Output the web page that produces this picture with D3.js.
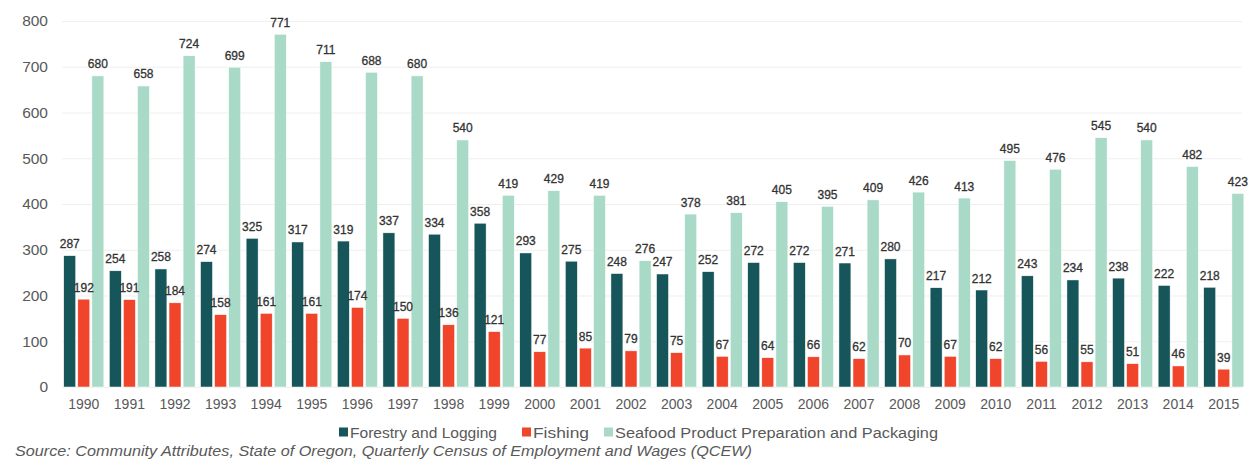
<!DOCTYPE html>
<html>
<head>
<meta charset="utf-8">
<script src="https://cdn.jsdelivr.net/npm/d3@7"></script>
<style>
  html, body { margin: 0; padding: 0; background: #fff; }
  svg { display: block; font-family: "Liberation Sans", Arial, Helvetica, sans-serif; }
</style>
</head>
<body>
<svg id="chart" width="1248" height="460"></svg>
<script>
const years = ["1990","1991","1992","1993","1994","1995","1996","1997","1998","1999","2000","2001","2002","2003","2004","2005","2006","2007","2008","2009","2010","2011","2012","2013","2014","2015"];
const seriesNames = ["Forestry and Logging", "Fishing", "Seafood Product Preparation and Packaging"];
const forestry = [287,254,258,274,325,317,319,337,334,358,293,275,248,247,252,272,272,271,280,217,212,243,234,238,222,218];
const fishing = [192,191,184,158,161,161,174,150,136,121,77,85,79,75,67,64,66,62,70,67,62,56,55,51,46,39];
const seafood = [680,658,724,699,771,711,688,680,540,419,429,419,276,378,381,405,395,409,426,413,495,476,545,540,482,423];
const yTicks = [0,100,200,300,400,500,600,700,800];
const sourceText = "Source: Community Attributes, State of Oregon, Quarterly Census of Employment and Wages (QCEW)";

const colors = ["#16555a", "#f0442b", "#a9dac8"];
const seriesValues = [forestry, fishing, seafood];

const svg = d3.select("#chart");
const plotLeft = 61, plotRight = 1246.6, plotTop = 21, plotBottom = 387;

const x0 = d3.scaleBand().domain(years).range([plotLeft, plotRight]).paddingInner(0.12).paddingOuter(0.06);
const x1 = d3.scaleBand().domain(d3.range(3)).range([0, x0.bandwidth()]).paddingInner(0.15);
const y = d3.scaleLinear().domain([0, 800]).range([plotBottom, plotTop]);

// gridlines + y axis
const yAxis = d3.axisLeft(y).tickValues(yTicks).tickSize(0).tickPadding(14);
const yg = svg.append("g").attr("transform", `translate(62,0)`).call(yAxis);
yg.select(".domain").remove();
yg.selectAll("text").attr("fill", "#595959").style("font-size", "15.5px");
svg.append("g").selectAll("line").data(yTicks).join("line")
  .attr("x1", 62).attr("x2", 1242)
  .attr("y1", d => y(d) + 0.5).attr("y2", d => y(d) + 0.5)
  .attr("stroke", "#efefef").attr("stroke-width", 1);

// bars
const groups = svg.append("g").selectAll("g").data(years).join("g")
  .attr("transform", d => `translate(${x0(d)},0)`);

groups.selectAll("rect").data((d, i) => seriesValues.map((s, k) => ({k, v: s[i]}))).join("rect")
  .attr("x", d => x1(d.k))
  .attr("width", x1.bandwidth())
  .attr("y", d => y(d.v))
  .attr("height", d => y(0) - y(d.v))
  .attr("fill", d => colors[d.k])
  .attr("stroke", "#ffffff").attr("stroke-width", 0.5);

groups.selectAll("text").data((d, i) => seriesValues.map((s, k) => ({k, v: s[i]}))).join("text")
  .attr("x", d => x1(d.k) + x1.bandwidth() / 2)
  .attr("y", d => y(d.v) - 7.5)
  .attr("text-anchor", "middle")
  .attr("fill", "#333333")
  .attr("stroke", "#333333").attr("stroke-width", 0.3)
  .style("font-size", "12px")
  .text(d => d.v);

// x axis
const xAxis = d3.axisBottom(x0).tickSize(0).tickPadding(12);
const xg = svg.append("g").attr("transform", `translate(0,${plotBottom})`).call(xAxis);
xg.select(".domain").remove();
xg.selectAll("text").attr("fill", "#595959").style("font-size", "14px");

// legend
const legendX = [339, 522, 604];
const legendW = [147, 56, 323];
const lg = svg.append("g").selectAll("g").data(seriesNames).join("g")
  .attr("transform", (d, i) => `translate(${legendX[i]},432)`);
lg.append("rect").attr("x", 0).attr("y", -4.5).attr("width", 9).attr("height", 9)
  .attr("fill", (d, i) => colors[i]);
lg.append("text").attr("x", 11).attr("y", 0).attr("dy", "0.36em")
  .attr("fill", "#595959").style("font-size", "15.5px")
  .attr("textLength", (d, i) => legendW[i]).attr("lengthAdjust", "spacingAndGlyphs")
  .text(d => d);

// source
svg.append("text").attr("x", 15).attr("y", 456)
  .attr("fill", "#595959").style("font-size", "15px").style("font-style", "italic")
  .attr("textLength", 737).attr("lengthAdjust", "spacingAndGlyphs")
  .text(sourceText);
</script>
</body>
</html>
